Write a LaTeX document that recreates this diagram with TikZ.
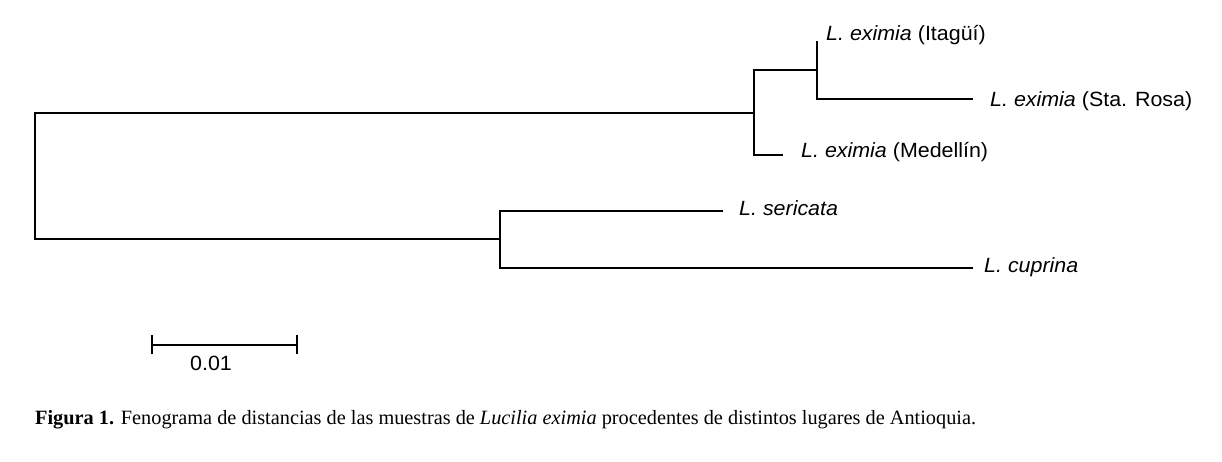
\documentclass[tikz,border=0pt]{standalone}
\usepackage{fontspec}
\setmainfont{Liberation Serif}
\newfontfamily\leaffont[FakeStretch=1.04]{Liberation Sans}
\usepackage{tikz}
\usetikzlibrary{positioning}

\tikzset{
  branch/.style={line width=2pt, line cap=rect},
  leaf/.style={inner sep=0pt, font=\leaffont\fontsize{20.6}{24}\selectfont},
}

\begin{document}
\begin{tikzpicture}[x=1pt,y=-1pt]
    \useasboundingbox (0,0) rectangle (1222,462);

    % internal nodes and tips
    \coordinate (root) at (35,176);
    \coordinate (eximia) at (754,113);
    \coordinate (itasta) at (817,70);
    \coordinate (luc) at (500,239);
    \coordinate (tipIta) at (817,42);
    \coordinate (tipSta) at (972,99);
    \coordinate (tipMed) at (782,155);
    \coordinate (tipSer) at (722,211);
    \coordinate (tipCup) at (972,268);

    \draw[branch] (eximia) -| (root) |- (luc);
    \draw[branch] (itasta) -| (eximia) |- (tipMed);
    \draw[branch] (tipIta) -- (itasta) |- (tipSta);
    \draw[branch] (tipSer) -| (luc) |- (tipCup);

    \node[leaf,anchor=base west] (ita) at (826,41) {\textit{L. eximia} (Itagüí)};
    \node[leaf,anchor=base west] (sta) at (990,107) {\textit{L. eximia} (Sta. Rosa)};
    \node[leaf,anchor=base west] (med) at (801,158) {\textit{L. eximia} (Medellín)};
    \node[leaf,anchor=base west] (ser) at (739,216) {\textit{L. sericata}};
    \node[leaf,anchor=base west] (cup) at (984,272) {\textit{L. cuprina}};

    % scale bar
    \coordinate (barL) at (152,345);
    \coordinate (barR) at (297,345);
    \draw[line width=2pt] (barL) -- (barR);
    \draw[line width=2pt] ([yshift=-9]barL) -- ([yshift=10]barL);
    \draw[line width=2pt] ([yshift=-9]barR) -- ([yshift=10]barR);
    \node[leaf,anchor=north] (barlab) at (211,356) {0.01};

    \node[anchor=base west,inner sep=0pt,font=\fontsize{20.3}{24}\selectfont] (cap) at (35,424)
      {\textbf{Figura 1.} Fenograma de distancias de las muestras de \textit{Lucilia eximia} procedentes de distintos lugares de Antioquia.};
\end{tikzpicture}
\end{document}
